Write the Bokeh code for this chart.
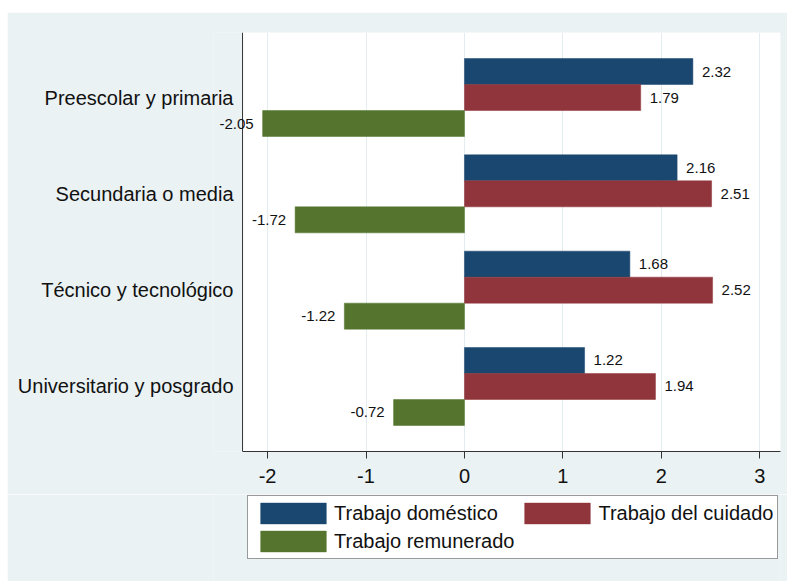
from bokeh.plotting import figure
from bokeh.layouts import column
from bokeh.models import (Range1d, ColumnDataSource, Legend, LegendItem,
                          FixedTicker, Label, BoxAnnotation, Span)
from bokeh.embed import file_html
from bokeh.resources import INLINE

categories = ["Preescolar y primaria", "Secundaria o media",
              "Técnico y tecnológico", "Universitario y posgrado"]
domestico = [2.32, 2.16, 1.68, 1.22]
cuidado = [1.79, 2.51, 2.52, 1.94]
remunerado = [-2.05, -1.72, -1.22, -0.72]
x_ticks = [-2, -1, 0, 1, 2, 3]
x_tick_labels = ["-2", "-1", "0", "1", "2", "3"]

series = [
    ("Trabajo doméstico", domestico, "#1a476f", -0.27),
    ("Trabajo del cuidado", cuidado, "#90353b", 0.0),
    ("Trabajo remunerado", remunerado, "#55752f", 0.27),
]

FONT = "Liberation Sans"
BG = "#EAF2F3"
INK = "#111111"
AX = "#333333"

X_MIN, X_MAX = -2.254, 3.21     # white plot region
X_PAD = 0.295                   # room left of it so value labels are not clipped

p = figure(width=780, height=482, title=None,
           x_range=Range1d(X_MIN - X_PAD, X_MAX),
           y_range=Range1d(3.675, -0.675),
           output_backend="svg", toolbar_location=None,
           min_border_left=206, min_border_right=7, min_border_top=20,
           min_border_bottom=43,
           background_fill_color=BG, border_fill_color=BG,
           outline_line_color=None)

# white plot region and its left axis line
p.add_layout(BoxAnnotation(left=X_MIN, fill_color="white", fill_alpha=1.0,
                           line_color=None, level="image"))
p.add_layout(Span(location=X_MIN, dimension="height", line_color=AX,
                  line_width=1))

# legend strip below the chart; its ranges keep the (shared) bars out of view
p2 = figure(width=780, height=87, title=None,
            x_range=Range1d(100, 101), y_range=Range1d(100, 101),
            output_backend="svg", toolbar_location=None,
            x_axis_location=None, y_axis_location=None,
            min_border_left=0, min_border_right=0, min_border_top=0,
            min_border_bottom=0,
            background_fill_color=BG, border_fill_color=BG,
            outline_line_color=None)
p2.xgrid.visible = False
p2.ygrid.visible = False

items = []
for name, vals, col, off in series:
    ys = [i + off for i in range(len(vals))]
    src = ColumnDataSource(dict(y=ys, right=vals))
    p.hbar(y="y", left=0, right="right", height=0.27, source=src,
           fill_color=col, line_color=col, line_width=0.5)
    r2 = p2.hbar(y="y", left=0, right="right", height=0.27, source=src,
                 fill_color=col, line_color=col, line_width=0.5)
    items.append(LegendItem(label=name, renderers=[r2]))
    for v, y in zip(vals, ys):
        p.add_layout(Label(x=v, y=y, text="%.2f" % v,
                           x_offset=9 if v >= 0 else -9,
                           text_align="left" if v >= 0 else "right",
                           text_baseline="middle", text_font=FONT,
                           text_font_size="15px", text_color=INK))

xa = p.xaxis[0]
xa.ticker = FixedTicker(ticks=x_ticks)
xa.bounds = (X_MIN, X_MAX)
xa.major_label_overrides = {t: s for t, s in zip(x_ticks, x_tick_labels)}
xa.major_label_text_font = FONT
xa.major_label_text_font_size = "20px"
xa.major_label_text_color = INK
xa.major_tick_out = 7
xa.major_tick_in = 0
xa.minor_tick_line_color = None
xa.axis_line_color = AX
xa.major_tick_line_color = AX
xa.major_label_standoff = 10

ya = p.yaxis[0]
ya.ticker = FixedTicker(ticks=list(range(len(categories))))
ya.major_label_overrides = {i: c for i, c in enumerate(categories)}
ya.major_label_text_font = FONT
ya.major_label_text_font_size = "20px"
ya.major_label_text_color = INK
ya.major_tick_out = 0
ya.major_tick_in = 0
ya.major_tick_line_color = None
ya.minor_tick_line_color = None
ya.axis_line_color = None
ya.major_label_standoff = -20

p.xgrid.grid_line_color = "#e3ecef"
p.ygrid.grid_line_color = None

legend = Legend(items=items, orientation="horizontal", ncols=2,
                location=(34, 22), margin=0, padding=4, spacing=2,
                label_standoff=0, glyph_width=82, glyph_height=26,
                label_text_font=FONT, label_text_font_size="20px",
                label_text_color=INK,
                border_line_color=AX, border_line_width=1,
                background_fill_color="white", background_fill_alpha=1.0)
p2.add_layout(legend, "center")

layout = column(p, p2, spacing=0, margin=(12, 0, 0, 7))

open("out.html", "w").write(file_html(layout, INLINE))
